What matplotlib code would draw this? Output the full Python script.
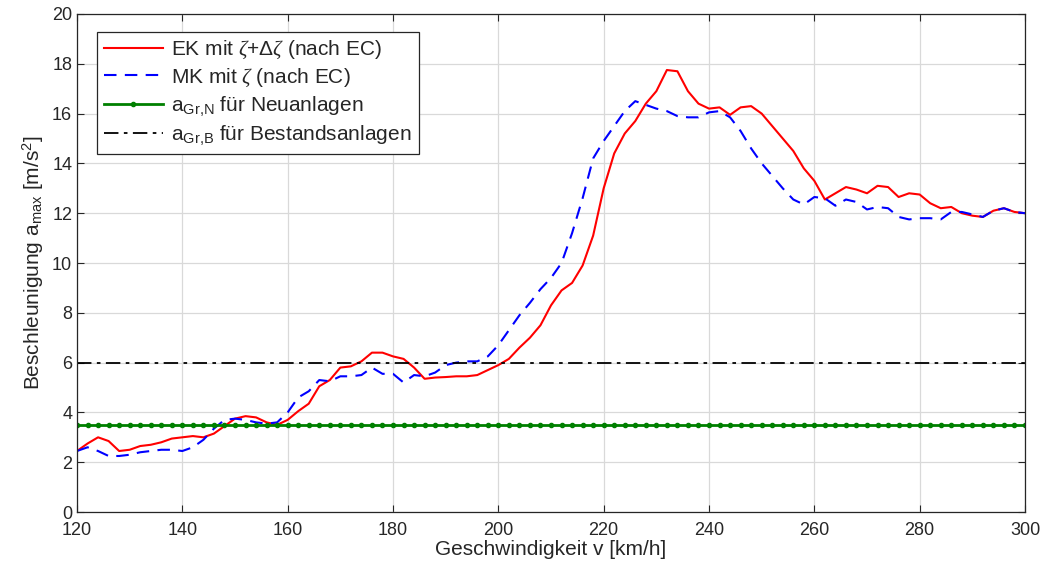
import numpy as np
from matplotlib import pyplot as plt

plt.rcParams['font.family'] = ['Liberation Sans', 'DejaVu Sans']
plt.rcParams['mathtext.fontset'] = 'custom'
plt.rcParams['mathtext.rm'] = 'Liberation Sans'
plt.rcParams['mathtext.it'] = 'Liberation Serif:italic'
plt.rcParams['mathtext.bf'] = 'Liberation Sans:bold'
plt.rcParams['text.color'] = '#262626'
plt.rcParams['axes.labelcolor'] = '#262626'

# Geschwindigkeit in km/h (Schrittweite 2)
v = np.arange(120, 301, 2)

# EK mit zeta + delta zeta
a_ek = [2.45, 2.75, 3.0, 2.85, 2.45, 2.5, 2.65, 2.7, 2.8, 2.95,
        3.0, 3.05, 3.0, 3.15, 3.45, 3.75, 3.85, 3.8, 3.6, 3.5,
        3.7, 4.05, 4.35, 5.05, 5.3, 5.8, 5.85, 6.05, 6.4, 6.4,
        6.25, 6.15, 5.8, 5.35, 5.4, 5.42, 5.45, 5.45, 5.5, 5.7,
        5.9, 6.15, 6.6, 7.0, 7.5, 8.3, 8.9, 9.2, 9.9, 11.1,
        13.0, 14.4, 15.2, 15.7, 16.4, 16.9, 17.75, 17.7, 16.9, 16.4,
        16.2, 16.25, 15.95, 16.25, 16.3, 16.0, 15.5, 15.0, 14.5, 13.8,
        13.3, 12.55, 12.8, 13.05, 12.95, 12.8, 13.1, 13.05, 12.65, 12.8,
        12.75, 12.4, 12.2, 12.25, 12.0, 11.9, 11.85, 12.1, 12.2, 12.05,
        12.0]

# MK mit zeta
a_mk = [2.45, 2.6, 2.45, 2.25, 2.25, 2.3, 2.4, 2.45, 2.5, 2.5,
        2.45, 2.6, 2.9, 3.35, 3.7, 3.75, 3.7, 3.6, 3.55, 3.6,
        4.0, 4.6, 4.85, 5.3, 5.25, 5.45, 5.45, 5.5, 5.8, 5.55,
        5.55, 5.2, 5.5, 5.45, 5.6, 5.9, 6.0, 6.05, 6.05, 6.25,
        6.7, 7.3, 7.9, 8.4, 8.95, 9.4, 10.0, 11.2, 12.6, 14.2,
        14.9, 15.5, 16.1, 16.5, 16.35, 16.2, 16.1, 15.9, 15.85, 15.85,
        16.05, 16.1, 15.85, 15.3, 14.6, 14.0, 13.5, 13.0, 12.55, 12.35,
        12.65, 12.6, 12.3, 12.55, 12.45, 12.15, 12.25, 12.2, 11.85, 11.75,
        11.8, 11.8, 11.75, 12.05, 12.05, 11.95, 11.85, 12.1, 12.2, 12.05,
        12.0]

a_gr_n = 3.5
a_gr_b = 6.0

fig = plt.figure(figsize=(10.42, 5.71), dpi=100)
ax = fig.add_axes([0.0739, 0.1033, 0.9098, 0.8722])

ax.plot(v, a_ek, c='red', lw=1.5, label=r'EK mit $\zeta$+$\Delta\zeta$ (nach EC)')
ax.plot(v, a_mk, c='blue', lw=1.5, ls=(0, (6, 4)), label=r'MK mit $\zeta$ (nach EC)')
ax.plot(v, np.full(len(v), a_gr_n), c=(0, 0.5, 0), lw=2, marker='.', ms=6,
        label=r'a$_{\mathrm{Gr{,}N}}$ für Neuanlagen')
ax.plot(v, np.full(len(v), a_gr_b), c='black', lw=1.3, ls=(0, (8, 3, 2, 3)),
        label=r'a$_{\mathrm{Gr{,}B}}$ für Bestandsanlagen')

ax.set_xlim(120, 300)
ax.set_ylim(0, 20)
ax.set_xticks(np.arange(120, 301, 20))
ax.set_yticks(np.arange(0, 21, 2))
ax.grid(True, color='#d9d9d9', lw=0.9)
ax.tick_params(direction='in', labelsize=13, top=True, right=True, length=5,
               color='#262626', labelcolor='#262626')
ax.tick_params(axis='x', pad=7)
for s in ax.spines.values():
    s.set_color('#262626')
    s.set_linewidth(0.9)

ax.set_xlabel('Geschwindigkeit v [km/h]', fontsize=15, labelpad=1)
ax.set_ylabel(r'Beschleunigung a$_{\mathrm{max}}$ [m/s$^2$]', fontsize=15, labelpad=4)

leg = ax.legend(loc='upper left', fontsize=15, fancybox=False, edgecolor='#262626',
                framealpha=1, handlelength=2.8, borderpad=0.35, labelspacing=0.25,
                handletextpad=0.4, borderaxespad=0, bbox_to_anchor=(0.021, 0.964))
leg.get_frame().set_linewidth(0.9)

plt.savefig('out.png', dpi=100)
